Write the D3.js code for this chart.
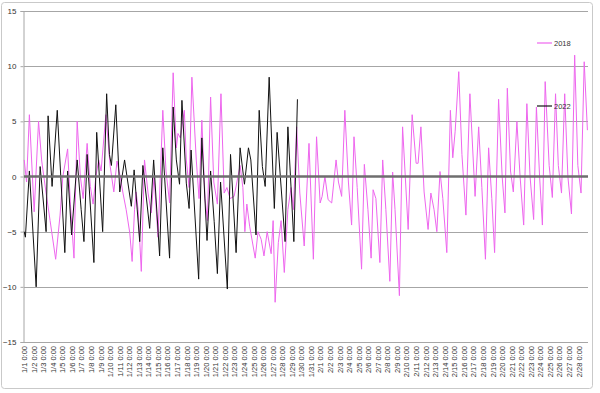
<!DOCTYPE html>
<html><head><meta charset="utf-8">
<script src="https://cdn.jsdelivr.net/npm/d3@7"></script>
<style>html,body{margin:0;padding:0;background:#fff;}svg{display:block;font-family:"Liberation Sans",Arial,sans-serif;}</style>
</head><body><svg id="c" width="600" height="393"></svg>
<script>
// x labels (one per day, hourly categories)
const dayLabels = ["1/1 0:00","1/2 0:00","1/3 0:00","1/4 0:00","1/5 0:00","1/6 0:00","1/7 0:00","1/8 0:00","1/9 0:00","1/10 0:00",
"1/11 0:00","1/12 0:00","1/13 0:00","1/14 0:00","1/15 0:00","1/16 0:00","1/17 0:00","1/18 0:00","1/19 0:00","1/20 0:00",
"1/21 0:00","1/22 0:00","1/23 0:00","1/24 0:00","1/25 0:00","1/26 0:00","1/27 0:00","1/28 0:00","1/29 0:00","1/30 0:00",
"1/31 0:00","2/1 0:00","2/2 0:00","2/3 0:00","2/4 0:00","2/5 0:00","2/6 0:00","2/7 0:00","2/8 0:00","2/9 0:00",
"2/10 0:00","2/11 0:00","2/12 0:00","2/13 0:00","2/14 0:00","2/15 0:00","2/16 0:00","2/17 0:00","2/18 0:00","2/19 0:00",
"2/20 0:00","2/21 0:00","2/22 0:00","2/23 0:00","2/24 0:00","2/25 0:00","2/26 0:00","2/27 0:00","2/28 0:00"];
const yTicks = [-15,-10,-5,0,5,10,15];
const seriesNames = ["2018","2022"];
// hour index (from 1/1 0:00) and value
const hours2018 = [0,6,13,25,36,44,55,65,79,90,97,109,116,125,133,141,148,158,166,173,180,187,193,205,216,225,233,241,248,256,265,271,277,281,286,294,302,311,319,326,336,348,356,365,374,382,386,392,402,407,414,421,432,439,446,454,460,468,476,485,494,502,509,517,527,534,542,549,554,559,566,580,587,595,602,610,620,625,630,638,645,653,662,670,676,684,692,703,715,726,734,743,748,755,763,772,783,789,797,805,814,822,828,836,847,854,863,871,876,883,893,900,908,918,925,931,942,950,964,974,984,989,996,1004,1014,1021,1029,1036,1044,1051,1061,1070,1076,1082,1091,1099,1109,1119,1132,1141,1149,1158,1166,1174,1181,1191,1200,1207,1213,1221,1228,1237,1245,1254,1262,1270,1279,1286,1294,1301,1308,1318,1326,1334,1341,1349,1357,1365,1374,1382,1390,1398,1406,1414];
const temp2018 = [1.5,-0.5,5.6,-3.2,5.0,1.4,-1.5,-4.0,-7.5,-3.5,0.0,2.5,-2.5,-7.4,5.0,0.0,-2.0,3.0,-0.9,-2.5,0.0,1.5,0.5,5.6,0.9,-1.4,1.4,0.0,-1.5,-3.0,-5.1,-7.7,-3.0,-1.4,-3.0,-8.6,1.5,-1.5,-3.3,0.0,-5.5,6.0,0.5,-2.4,9.4,2.6,3.9,3.5,6.0,1.5,-1.0,9.0,1.5,-2.0,5.1,-2.0,-4.0,7.2,-0.5,-2.5,7.5,-1.5,-1.0,-2.0,-1.8,-0.5,1.0,-1.0,-5.0,-2.5,-4.5,-7.4,-5.0,-5.7,-7.2,-5.0,-7.0,-4.0,-11.4,-6.0,-4.0,-8.7,-3.0,-1.0,-3.0,4.5,-1.5,-6.3,3.0,-7.5,3.6,-2.4,-1.8,0.0,-2.1,-2.4,1.5,-0.5,-1.8,6.0,-0.5,-4.4,3.6,-1.0,-8.4,1.1,-3.0,-7.4,-1.2,-2.0,-7.8,1.5,-3.0,-9.5,0.4,-3.0,-10.8,4.5,-4.8,5.6,1.2,1.2,4.5,-1.4,-4.8,-1.5,-3.0,-5.0,0.45,-2.0,-6.9,6.0,1.7,4.1,9.5,2.0,-3.5,7.5,-1.8,4.5,-1.0,-7.5,2.6,-2.0,-6.9,7.0,0.0,-3.3,8.0,0.5,-1.4,5.0,0.0,-4.4,6.6,0.0,-3.9,6.3,0.0,-4.4,8.6,1.0,-1.9,7.5,1.0,-1.5,7.5,0.0,-3.4,11.0,1.0,-1.5,10.4,4.2];
const hours2022 = [0,3,13,30,40,55,60,70,83,102,109,119,133,143,150,158,175,182,197,207,214,219,230,240,252,269,276,290,298,315,325,340,348,365,374,382,390,396,407,414,419,438,446,459,468,477,485,493,510,518,532,542,553,563,569,582,590,598,605,615,628,635,655,662,677,686];
const temp2022 = [-5.0,-5.5,0.5,-10.0,0.9,-5.0,5.5,-0.9,6.0,-6.9,0.5,-5.3,1.5,-3.0,-5.9,2.0,-7.8,4.0,-5.0,7.5,2.0,1.0,6.5,-1.4,1.5,-2.7,0.6,-5.9,1.0,-4.7,1.5,-7.2,2.6,-7.4,6.3,1.5,-0.7,6.9,-0.6,-2.9,2.4,-9.3,3.5,-5.8,0.5,-4.1,-8.8,-0.5,-10.2,2.0,-6.9,2.6,-0.7,2.6,1.5,-5.3,6.0,0.9,-0.9,9.0,-2.9,4.0,-5.9,4.5,-5.9,7.0];
const colors = ["#ee66ee","#111111"];

const svg = d3.select("#c");
const nCat = dayLabels.length*24;
const x = d3.scaleLinear().domain([0,nCat]).range([24,588]);
const y = d3.scaleLinear().domain([-15,15]).range([342,11]);

// chart border
svg.append("rect").attr("x",1.5).attr("y",2.5).attr("width",591).attr("height",386)
  .attr("rx",3).attr("fill","none").attr("stroke","#c9c9c9").attr("stroke-width",1);

// gridlines
svg.append("g").selectAll("line").data(yTicks.filter(t=>t!==0)).join("line")
  .attr("x1",24).attr("x2",588).attr("y1",d=>Math.round(y(d))+0.5).attr("y2",d=>Math.round(y(d))+0.5)
  .attr("stroke","#a6a6a6").attr("stroke-width",1);

// y axis
const yAxis = d3.axisLeft(y).tickValues(yTicks).tickSize(3).tickFormat(d3.format("d"));
const gy = svg.append("g").attr("transform","translate(23.5,0)").call(yAxis);
gy.select(".domain").attr("stroke","#a6a6a6");
gy.selectAll(".tick line").attr("stroke","#a6a6a6");
gy.selectAll(".tick text").attr("font-size",8).attr("fill","#333").attr("x",-7);

// x axis labels at bottom
const xAxis = d3.axisBottom(x).tickValues(dayLabels.map((d,i)=>i*24+0.5))
  .tickFormat((d,i)=>dayLabels[i]).tickSize(0);
const gx = svg.append("g").attr("transform","translate(0,"+(y(-15))+")").call(xAxis);
gx.select(".domain").remove();
gx.selectAll(".tick text").attr("font-size",7.5).attr("fill","#333")
  .attr("transform","rotate(-90)").attr("text-anchor","end")
  .attr("x",-4).attr("y",0).attr("dy","0.32em");

// series
const line = d3.line().x(d=>x(d[0]+0.5)).y(d=>y(d[1]));
const s2018 = hours2018.map((h,i)=>[h,temp2018[i]]);
const s2022 = hours2022.map((h,i)=>[h,temp2022[i]]);
svg.append("path").datum(s2018).attr("d",line).attr("fill","none").attr("stroke",colors[0]).attr("stroke-width",1);
svg.append("path").datum(s2022).attr("d",line).attr("fill","none").attr("stroke",colors[1]).attr("stroke-width",1);

// zero axis line
svg.append("line").attr("x1",24).attr("x2",588).attr("y1",y(0)).attr("y2",y(0))
  .attr("stroke","#6e6e6e").attr("stroke-width",2.5);

// legend
const legY = [43,106];
const lg = svg.append("g");
seriesNames.forEach((n,i)=>{
  lg.append("line").attr("x1",537).attr("x2",552).attr("y1",legY[i]).attr("y2",legY[i])
    .attr("stroke",colors[i]).attr("stroke-width",1.2);
  lg.append("text").attr("x",554).attr("y",legY[i]).attr("dy","0.35em")
    .attr("font-size",7.5).attr("fill","#333").text(n);
});
</script></body></html>
